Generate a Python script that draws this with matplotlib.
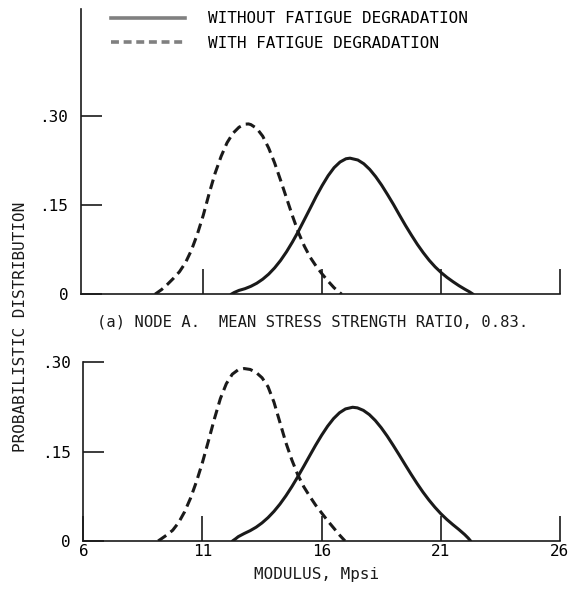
import matplotlib
matplotlib.use("Agg")
import matplotlib.pyplot as plt
from matplotlib.lines import Line2D

# values
# (a) node A, without fatigue degradation
a_solid_x = [12.17, 12.3, 12.5, 12.75, 13.0, 13.25, 13.5, 13.75, 14.0, 14.25, 14.5, 14.75,
             15.0, 15.25, 15.5, 15.75, 16.0, 16.25, 16.5, 16.75, 17.0, 17.17, 17.5, 17.75,
             18.0, 18.25, 18.5, 18.75, 19.0, 19.25, 19.5, 19.75, 20.0, 20.25, 20.5, 20.75,
             21.0, 21.25, 21.5, 21.75, 22.0, 22.2, 22.35]
a_solid_y = [0.0, 0.003, 0.0065, 0.0094, 0.0134, 0.0186, 0.0254, 0.0339, 0.0444, 0.0569, 0.0715, 0.088,
             0.106, 0.1255, 0.145, 0.1648, 0.183, 0.1995, 0.213, 0.2225, 0.228, 0.229, 0.2259, 0.2196,
             0.2101, 0.1979, 0.1836, 0.1676, 0.151, 0.1333, 0.116, 0.0997, 0.0841, 0.070, 0.0572, 0.0461,
             0.0366, 0.0284, 0.0212, 0.0145, 0.0085, 0.004, 0.0]
# (a) node A, with fatigue degradation
a_dash_x = [8.97, 9.25, 9.5, 9.75, 10.0, 10.25, 10.5, 10.75, 11.0, 11.25, 11.5, 11.75,
            12.0, 12.25, 12.5, 12.75, 12.9, 13.0, 13.25, 13.5, 13.75, 14.0, 14.25, 14.5,
            14.75, 15.0, 15.25, 15.5, 15.75, 16.0, 16.25, 16.5, 16.82]
a_dash_y = [0.0, 0.008, 0.017, 0.027, 0.038, 0.053, 0.074, 0.101, 0.133, 0.170, 0.204, 0.232,
            0.255, 0.271, 0.281, 0.2862, 0.2866, 0.2855, 0.279, 0.266, 0.246, 0.221, 0.192, 0.162,
            0.132, 0.104, 0.081, 0.062, 0.047, 0.034, 0.022, 0.011, 0.0]

# lower panel, without fatigue degradation
b_solid_x = [12.26, 12.4, 12.5, 12.75, 13.0, 13.25, 13.5, 13.75, 14.0, 14.25, 14.5, 14.75,
             15.0, 15.25, 15.5, 15.75, 16.0, 16.25, 16.5, 16.75, 17.0, 17.3, 17.5, 17.75,
             18.0, 18.25, 18.5, 18.75, 19.0, 19.25, 19.5, 19.75, 20.0, 20.25, 20.5, 20.75,
             21.0, 21.25, 21.5, 21.75, 22.0, 22.15, 22.25]
b_solid_y = [0.0, 0.004, 0.0072, 0.0125, 0.0173, 0.0231, 0.0304, 0.0392, 0.0497, 0.0619, 0.0758, 0.0912,
             0.1079, 0.1254, 0.1433, 0.161, 0.1776, 0.1927, 0.2055, 0.2153, 0.2217, 0.2245, 0.2235, 0.2193,
             0.2122, 0.2023, 0.1901, 0.1761, 0.1607, 0.1447, 0.1283, 0.1122, 0.0967, 0.0821, 0.0688, 0.0567,
             0.0458, 0.0362, 0.0276, 0.0195, 0.0108, 0.0048, 0.0]
# lower panel, with fatigue degradation
b_dash_x = [9.14, 9.25, 9.5, 9.75, 10.0, 10.25, 10.5, 10.75, 11.0, 11.25, 11.5, 11.75,
            12.0, 12.25, 12.5, 12.75, 13.0, 13.25, 13.5, 13.75, 14.0, 14.25, 14.5, 14.75,
            15.0, 15.25, 15.5, 15.75, 16.0, 16.25, 16.5, 16.75, 16.98]
b_dash_y = [0.0, 0.003, 0.010, 0.018, 0.031, 0.049, 0.072, 0.100, 0.132, 0.168, 0.205, 0.239,
            0.264, 0.280, 0.2875, 0.2895, 0.288, 0.283, 0.274, 0.259, 0.233, 0.199, 0.165, 0.136,
            0.111, 0.091, 0.075, 0.060, 0.047, 0.034, 0.022, 0.010, 0.0]

x_ticks = [6, 11, 16, 21, 26]
y_ticks = [0, 0.15, 0.30]
y_labels = ["0", ".15", ".30"]
legend_labels = ["WITHOUT FATIGUE DEGRADATION", "WITH FATIGUE DEGRADATION"]
caption_a = "(a) NODE A.  MEAN STRESS STRENGTH RATIO, 0.83."

plt.rcParams['font.family'] = ['DejaVu Sans Mono']
ink = '#1a1a1a'
dash = (3.2, 1.8)

fig = plt.figure(figsize=(5.73, 5.95), dpi=100)
ax1 = fig.add_axes([0.1408, 0.5054, 0.8365, 0.4795])
ax2 = fig.add_axes([0.1454, 0.0908, 0.8319, 0.3003])


def style(ax, xticks, show_xlabels):
    for sp in ["top", "right"]:
        ax.spines[sp].set_visible(False)
    for sp in ["left", "bottom"]:
        ax.spines[sp].set_color(ink)
        ax.spines[sp].set_linewidth(1.2)
    ax.set_xticks(xticks)
    ax.set_yticks(y_ticks)
    ax.set_yticklabels(y_labels)
    ax.tick_params(axis='x', direction='in', length=18, width=1.2, color=ink,
                   labelsize=11.5, pad=2, labelbottom=show_xlabels)
    ax.tick_params(axis='y', direction='in', length=15, width=1.2, color=ink,
                   labelsize=11.5, pad=9)


ax1.plot(a_solid_x, a_solid_y, color=ink, lw=2.2, solid_capstyle='round')
ax1.plot(a_dash_x, a_dash_y, color=ink, lw=2.2, dashes=dash)
ax1.set_xlim(5.845, 26)
ax1.set_ylim(0, 0.48)
style(ax1, x_ticks[1:], False)

ax2.plot(b_solid_x, b_solid_y, color=ink, lw=2.2, solid_capstyle='round')
ax2.plot(b_dash_x, b_dash_y, color=ink, lw=2.2, dashes=dash)
ax2.set_xlim(6, 26)
ax2.set_ylim(0, 0.30)
style(ax2, x_ticks, True)

handles = [Line2D([], [], color='#808080', lw=2.6),
           Line2D([], [], color='#808080', lw=2.6, dashes=(2.2, 1.3))]
fig.legend(handles, legend_labels, loc='upper left', bbox_to_anchor=(0.175, 1.0),
           frameon=False, fontsize=11.5, handlelength=4.6, handletextpad=1.45,
           labelspacing=0.62, borderaxespad=0.3)

fig.text(0.546, 1 - 322 / 595, caption_a, ha='center', va='center', fontsize=11.2, color=ink)
fig.text(0.552, 1 - 575 / 595, "MODULUS, Mpsi", ha='center', va='center', fontsize=11.5, color=ink)
fig.text(0.0366, 1 - 327 / 595, "PROBABILISTIC DISTRIBUTION", rotation=90,
         ha='center', va='center', fontsize=11.5, color=ink)

fig.savefig("out.png", dpi=100)
